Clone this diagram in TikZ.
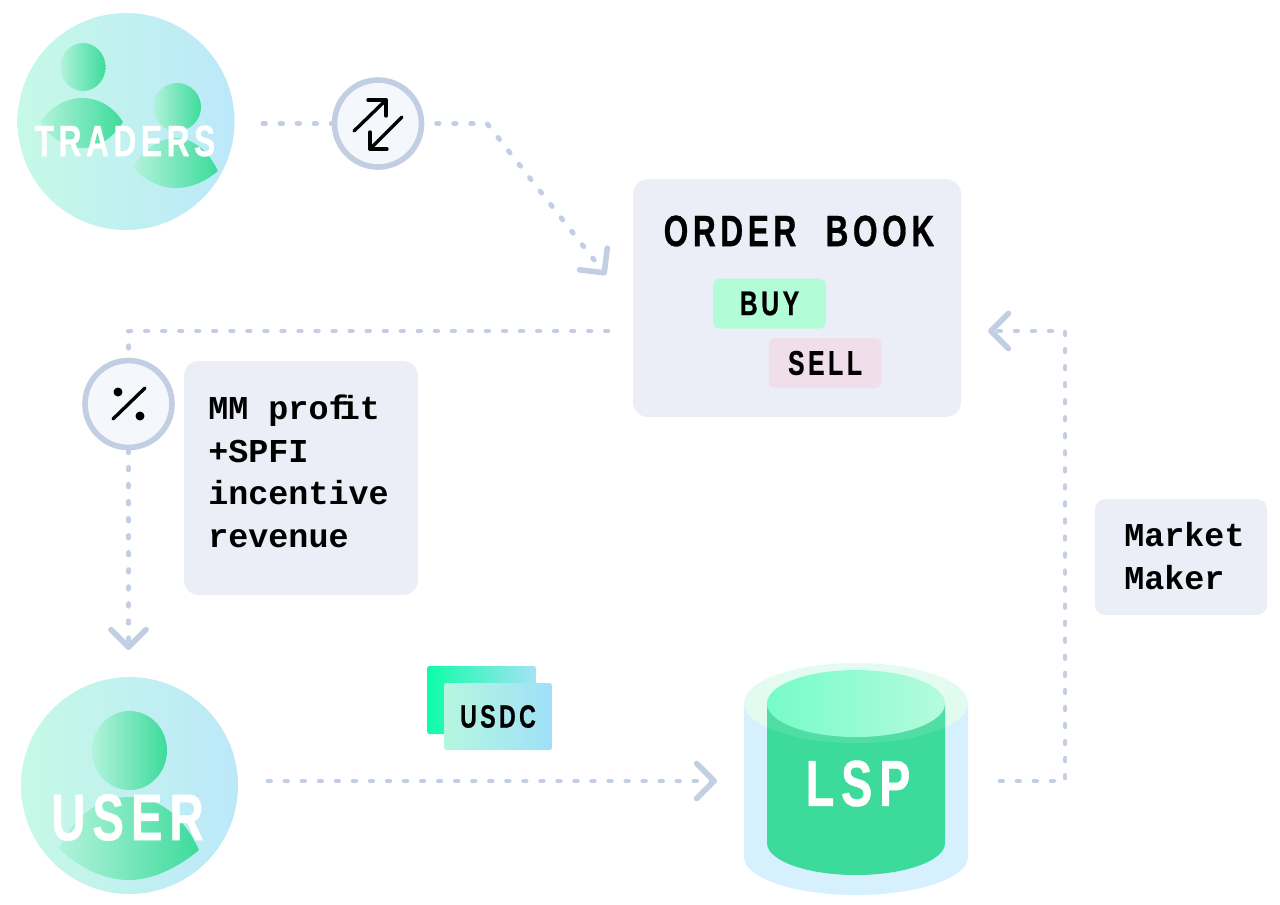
\documentclass[tikz,border=0pt]{standalone}
\usepackage{xcolor}
\usepackage{fontspec}
\usepackage{tikz}
\usetikzlibrary{arrows.meta,positioning}
\newfontfamily\dinfont[FakeStretch=0.72,LetterSpace=10.5,FakeBold=0.6]{Liberation Sans Bold}
\newfontfamily\notefont{Liberation Mono Bold}
\definecolor{dotblue}{HTML}{C2CFE2}
\definecolor{boxgrey}{HTML}{EBEEF6}
\definecolor{ringfill}{HTML}{F4F7FB}
\definecolor{mint}{HTML}{C6F9E6}
\definecolor{sky}{HTML}{BCE8FA}
\definecolor{palegreen}{HTML}{B2F3DC}
\definecolor{lspgreen}{HTML}{3DDB9B}
\definecolor{lspblue}{HTML}{D6F1FD}
\definecolor{lsprim}{HTML}{E2FBF1}
\definecolor{lsptopl}{HTML}{75FCC8}
\definecolor{lsptopr}{HTML}{B5FBDC}
\definecolor{buygreen}{HTML}{B2FDD7}
\definecolor{sellpink}{HTML}{F0DEEA}
\definecolor{coinbackl}{HTML}{0DFDA8}
\definecolor{coinbackr}{HTML}{A5E3F5}
\definecolor{coinl}{HTML}{B6F6DF}
\definecolor{coinr}{HTML}{9FE0F8}

\begin{document}
\begin{tikzpicture}[x=0.02cm, y=-0.02cm]
	\tikzstyle{dotline} = [draw = dotblue, line width = 2.8pt, line cap = round, line join = round, dash pattern = on 1.4pt off 8.3pt]
	\tikzstyle{barb} = [-{Straight Barb[length = 10pt, width = 20pt, line width = 3.2pt, round]}]
	\tikzstyle{disc} = [circle, minimum size = 4.34cm, inner sep = 0, left color = mint, right color = sky]
	\tikzstyle{ring} = [circle, draw = dotblue, line width = 3.2pt, fill = ringfill, minimum size = 1.74cm, inner sep = 0]
	\tikzstyle{greybox} = [rectangle, rounded corners = 0.3cm, fill = boxgrey, inner sep = 0]
	\tikzstyle{tag} = [rectangle, rounded corners = 0.14cm, inner sep = 0, minimum width = 2.26cm, minimum height = 1cm, font = \dinfont\fontsize{19.5}{20}\selectfont]
	\tikzstyle{coin} = [rectangle, rounded corners = 0.05cm, inner sep = 0]
	\tikzstyle{note} = [align = left, inner sep = 0, font = \notefont\fontsize{19}{24.2}\selectfont]
	\tikzstyle{person} = [left color = palegreen, right color = lspgreen]
	\tikzstyle{icon} = [draw = black, line width = 1.9pt, line cap = round, line join = round]
	\useasboundingbox (0, 0) rectangle (1280, 904);

\node[disc] (traders) at (126, 121.5) {};
\node[disc] (user) at (129.5, 785.5) {};

	% people on the two discs
\path[person] (83, 67) circle [x radius = 22.5, y radius = 24];
\path[person] (40, 122) .. controls (52, 106) and (66, 98) .. (82, 98) .. controls (98, 98) and (113, 106) .. (123, 122) .. controls (113, 138) and (98, 148) .. (82, 148) .. controls (66, 148) and (50, 138) .. (40, 122) -- cycle;
\path[person] (177, 107) circle [x radius = 24, y radius = 24];
\path[person] (133, 167) .. controls (145, 148) and (160, 138) .. (176, 138) .. controls (192, 138) and (208, 150) .. (218, 171) .. controls (206, 181) and (192, 188) .. (176, 188) .. controls (160, 188) and (144, 180) .. (133, 167) -- cycle;
\path[person] (129.5, 750.5) circle [x radius = 37.5, y radius = 39.5];
\path[person] (59, 848) .. controls (75, 815) and (100, 797) .. (129, 797) .. controls (158, 797) and (183, 815) .. (199, 850) .. controls (175, 870) and (150, 880) .. (129, 880) .. controls (108, 880) and (80, 870) .. (59, 848) -- cycle;

\node[text = white, font = \dinfont\fontsize{25}{25}\selectfont] (traderslabel) at (125, 141) {TRADERS};
\node[text = white, font = \dinfont\fontsize{37.5}{38}\selectfont] (userlabel) at (127.5, 817.5) {USER};

\node[greybox, minimum width = 6.56cm, minimum height = 4.76cm] (book) at (797, 298) {};
\node[font = \dinfont\fontsize{25}{25}\selectfont] (booklabel) at (799, 231) {ORDER\hspace{9pt} BOOK};
\node[tag, fill = buygreen] (buy) at (769.5, 303.5) {BUY};
\node[tag, fill = sellpink] (sell) at (825, 363) {SELL};

\node[greybox, minimum width = 4.68cm, minimum height = 4.68cm] (profitbox) at (301, 478) {};
\node[note, anchor = west] (profit) at (208, 471.5) {MM prof\kern-5pt it\\+SPFI\\incentive\\revenue};
\node[greybox, rounded corners = 0.2cm, minimum width = 3.44cm, minimum height = 2.32cm] (makerbox) at (1181, 557) {};
\node[note, anchor = west] (maker) at (1124, 556) {Market\\Maker};

	% coin pair
\node[coin, minimum width = 2.18cm, minimum height = 1.36cm, left color = coinbackl, right color = coinbackr] (coinback) at (481.5, 700) {};
\node[coin, minimum width = 2.16cm, minimum height = 1.34cm, left color = coinl, right color = coinr, font = \dinfont\fontsize{18.3}{19}\selectfont] (usdc) at (498, 716.5) {\raisebox{-1.2pt}{USDC}};

	% storage cylinder
\path[fill = lspblue] (744, 703) -- (744, 857) arc [start angle = 180, end angle = 0, x radius = 112, y radius = 38] -- (968, 703) -- cycle;
\path[fill = lsprim] (856, 703) ellipse [x radius = 112, y radius = 40];
\path[fill = lspgreen] (767, 703) -- (767, 843) arc [start angle = 180, end angle = 0, x radius = 89, y radius = 32] -- (945, 703) -- cycle;
\begin{scope}
	\clip (767, 660) rectangle (945, 760);
	\path[fill = white, fill opacity = 0.1] (856, 703) ellipse [x radius = 112, y radius = 40];
\end{scope}
\path[left color = lsptopl, right color = lsptopr] (856, 703.5) ellipse [x radius = 89, y radius = 33.5];
\node[text = white, font = \dinfont\fontsize{37}{38}\selectfont] (lsp) at (858, 783.5) {LSP};

	% connector ends
\coordinate (traderout) at (263, 123.5);
\coordinate (swapbend) at (487, 123.5);
\coordinate (bookin) at (606, 275);
\coordinate (bookout) at (608, 331);
\coordinate (pctbend) at (128.5, 331);
\coordinate (userin) at (128.5, 650);
\coordinate (userout) at (268, 781);
\coordinate (lspin) at (717, 781);
\coordinate (lspout) at (1000, 781);
\coordinate (makerbend) at (1065, 781);
\coordinate (makerup) at (1065, 331);
\coordinate (bookright) at (988, 331);

\node[ring] (swap) at (378, 123.5) {};
\node[ring] (pct) at (128.5, 404) {};
	\path[dotline] (traderout) -- (swap);
	\path[dotline, barb, shorten <= 7pt] (swap) -- (swapbend) -- (bookin);
	\path[dotline] (bookout) -- (pctbend) -- (pct);
	\path[dotline, barb] (pct) -- (userin);
	\path[dotline, barb] (userout) -- (lspin);
	\path[dotline, barb] (lspout) -- (makerbend) -- (makerup) -- (bookright);

	% icons inside the two rings
\draw[icon] (354, 131) -- (386, 100);
\draw[icon] (368, 100) -- (386, 100) -- (386, 116);
\draw[icon] (402, 117) -- (370, 149);
\draw[icon] (370, 132) -- (370, 149) -- (387, 149);
\draw[icon] (113, 419) -- (145, 388);
\fill (118, 392) circle [radius = 4.5];
\fill (140, 416) circle [radius = 4.5];
\end{tikzpicture}
\end{document}
